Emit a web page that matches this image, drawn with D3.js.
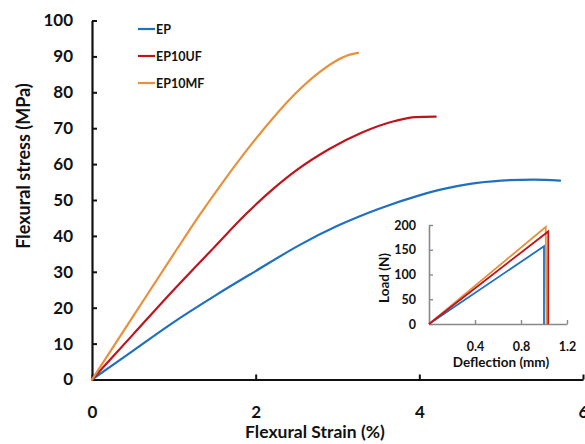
<!DOCTYPE html>
<html lang="en">
<head>
    <meta charset="UTF-8">
    <title>Flexural stress vs strain</title>
    <script src="https://d3js.org/d3.v7.min.js"></script>
    <style>
        body {
            margin: 0;
            padding: 0;
            background: #fff;
        }
        svg {
            font-family: Lato, "Open Sans", sans-serif;
            font-weight: bold;
            display: block;
        }
    </style>
</head>
<body>
    <svg width="585" height="444"></svg>

    <script>
        // series names + colours
        const seriesNames = ["EP", "EP10UF", "EP10MF"];
        const seriesColors = ["#1f70c1", "#c0141c", "#e8913c"];

        // main chart: [strain %, stress MPa]
        const epCurve = [[0, 0], [0.5, 8], [1.0, 16], [1.5, 23.3], [2, 30.2], [2.54, 37.5], [3.0, 42.8],
            [3.5, 47.5], [4.0, 51.3], [4.3, 53.1], [4.62, 54.5], [5.0, 55.4], [5.4, 55.7], [5.72, 55.4]];
        const ep10ufCurve = [[0, 0], [0.5, 12.5], [1.0, 25], [1.5, 37], [1.9, 46.5], [2.2, 52.8], [2.5, 58.3],
            [2.9, 64.2], [3.3, 68.8], [3.7, 72], [3.95, 73.1], [4.2, 73.2]];
        const ep10mfCurve = [[0, 0], [0.5, 17.5], [1.0, 35], [1.32, 46], [1.6, 55], [1.93, 65], [2.2, 72.5],
            [2.48, 79.5], [2.73, 84.7], [2.97, 88.6], [3.15, 90.5], [3.25, 91]];

        // inset: [deflection mm, load N]
        const epInset = [[0, 0], [1.0, 157], [1.0, 0]];
        const ep10ufInset = [[0, 0], [1.037, 187], [1.037, 0]];
        const ep10mfInset = [[0, 0], [1.015, 196], [1.022, 0]];

        // ticks
        const xTicks = [0, 2, 4, 6];
        const yTicks = [0, 10, 20, 30, 40, 50, 60, 70, 80, 90, 100];
        const insetXTicks = [0.4, 0.8, 1.2];
        const insetYTicks = [0, 50, 100, 150, 200];

        const svg = d3.select("svg");

        const x = d3.scaleLinear().domain([0, 6]).range([92, 583]);
        const y = d3.scaleLinear().domain([0, 100]).range([379.5, 20.5]);

        // y axis
        const yAxis = svg.append("g")
            .attr("transform", `translate(${x(0)},0)`)
            .call(d3.axisLeft(y).tickValues(yTicks).tickSizeInner(-5).tickSizeOuter(0).tickPadding(19));

        // x axis
        const xAxis = svg.append("g")
            .attr("transform", `translate(0,${y(0)})`)
            .call(d3.axisBottom(x).tickValues(xTicks).tickFormat(d3.format("d"))
                .tickSizeInner(-5).tickSizeOuter(0).tickPadding(26));

        [xAxis, yAxis].forEach(ax => {
            ax.select(".domain").attr("stroke", "#111").attr("stroke-width", 2.2);
            ax.selectAll(".tick line").attr("stroke", "#111").attr("stroke-width", 2);
            ax.selectAll("text").attr("font-size", 17).attr("fill", "#111")
                .attr("font-family", "Lato, sans-serif").attr("font-weight", "bold");
        });

        // axis titles
        svg.append("text")
            .attr("x", 315).attr("y", 438)
            .attr("text-anchor", "middle")
            .attr("font-size", 17.5)
            .attr("fill", "#111")
            .text("Flexural Strain (%)");

        svg.append("text")
            .attr("transform", "translate(30,166) rotate(-90)")
            .attr("text-anchor", "middle")
            .attr("font-size", 18)
            .attr("fill", "#111")
            .text("Flexural stress (MPa)");

        // curves
        const line = d3.line()
            .x(d => x(d[0]))
            .y(d => y(d[1]))
            .curve(d3.curveMonotoneX);

        [epCurve, ep10ufCurve, ep10mfCurve].forEach((c, i) => {
            svg.append("path")
                .datum(c)
                .attr("d", line)
                .attr("fill", "none")
                .attr("stroke", seriesColors[i])
                .attr("stroke-width", 2.2)
                .attr("stroke-linecap", "round");
        });

        // legend
        const legend = svg.append("g");
        seriesNames.forEach((name, i) => {
            const ly = 29 + i * 27;
            legend.append("line")
                .attr("x1", 138).attr("x2", 155)
                .attr("y1", ly).attr("y2", ly)
                .attr("stroke", seriesColors[i])
                .attr("stroke-width", 2.2);
            legend.append("text")
                .attr("x", 156).attr("y", ly)
                .attr("dy", "0.36em")
                .attr("font-size", 12.5)
                .attr("fill", "#111")
                .text(name);
        });

        // inset chart
        const ix = d3.scaleLinear().domain([0, 1.2]).range([429, 567]);
        const iy = d3.scaleLinear().domain([0, 200]).range([324, 225]);

        const iyAxis = svg.append("g")
            .attr("transform", `translate(${ix(0)},0)`)
            .call(d3.axisLeft(iy).tickValues(insetYTicks).tickSizeInner(-4).tickSizeOuter(0).tickPadding(13));

        const ixAxis = svg.append("g")
            .attr("transform", `translate(0,${iy(0)})`)
            .call(d3.axisBottom(ix).tickValues(insetXTicks).tickFormat(d3.format(".1f"))
                .tickSizeInner(-4).tickSizeOuter(0).tickPadding(18));

        [ixAxis, iyAxis].forEach(ax => {
            ax.select(".domain").attr("stroke", "#888").attr("stroke-width", 1.6);
            ax.selectAll(".tick line").attr("stroke", "#888").attr("stroke-width", 1.4);
            ax.selectAll("text").attr("font-size", 12.5).attr("fill", "#111")
                .attr("font-family", "Lato, sans-serif").attr("font-weight", "bold");
        });

        svg.append("text")
            .attr("x", 501).attr("y", 367)
            .attr("text-anchor", "middle")
            .attr("font-size", 13.5)
            .attr("fill", "#111")
            .text("Deflection (mm)");

        svg.append("text")
            .attr("transform", "translate(389,278) rotate(-90)")
            .attr("text-anchor", "middle")
            .attr("font-size", 13.5)
            .attr("fill", "#111")
            .text("Load (N)");

        const insetLine = d3.line()
            .x(d => ix(d[0]))
            .y(d => iy(d[1]));

        [epInset, ep10mfInset, ep10ufInset].forEach((c, i) => {
            const colorIdx = [0, 2, 1][i];
            svg.append("path")
                .datum(c)
                .attr("d", insetLine)
                .attr("fill", "none")
                .attr("stroke", seriesColors[colorIdx])
                .attr("stroke-width", 1.8);
        });
    </script>
</body>
</html>
